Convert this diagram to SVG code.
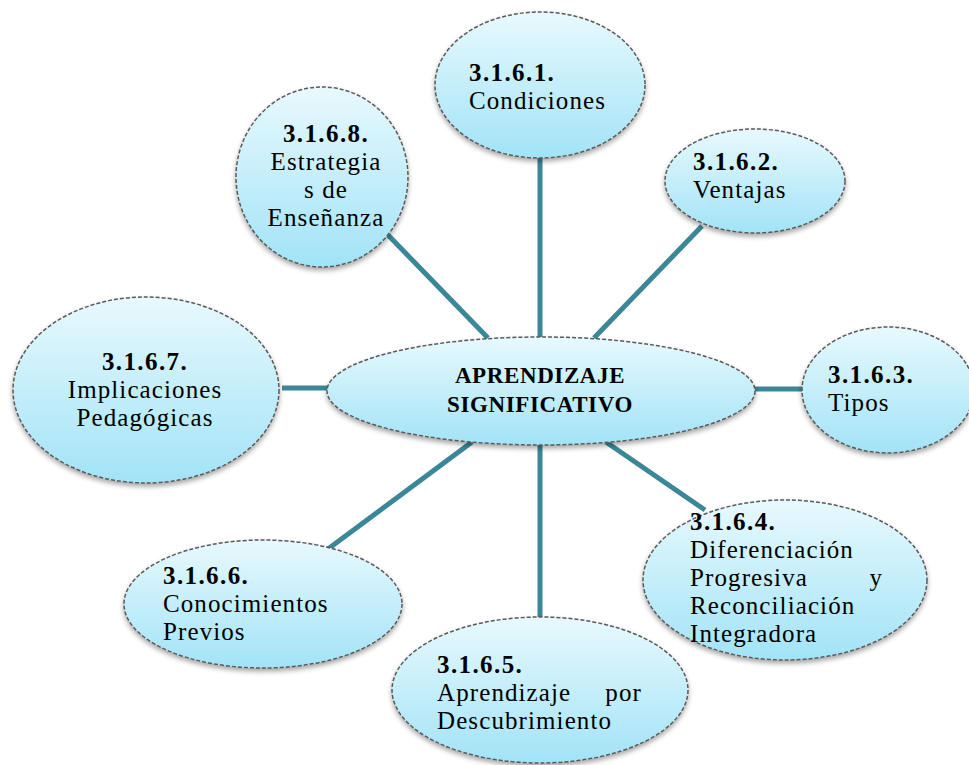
<svg xmlns="http://www.w3.org/2000/svg" width="969" height="765" viewBox="0 0 969 765">
<defs>
<linearGradient id="g" x1="0" y1="0" x2="0" y2="1">
<stop offset="0" stop-color="#e8f9fd"/>
<stop offset="1" stop-color="#a2e3f7"/>
</linearGradient>
<filter id="sh" x="-10%" y="-10%" width="120%" height="130%">
<feDropShadow dx="0" dy="3" stdDeviation="2.5" flood-color="#000" flood-opacity="0.35"/>
</filter>
<style>
.n{fill:url(#g);stroke:#5a5a5a;stroke-width:1.5;stroke-dasharray:4 2;filter:url(#sh)}
.c{stroke:#3a8797;stroke-width:5;fill:none}
text{font-family:"Liberation Serif","Times New Roman",serif;font-size:25px;letter-spacing:1.1px;fill:#000}
.b{font-weight:bold;letter-spacing:1.4px}
.m{text-anchor:middle}
.e{text-anchor:end}
.cb{font-weight:bold;font-size:23px;letter-spacing:0.6px;text-anchor:middle}
</style>
</defs>
<rect width="969" height="765" fill="#fff"/>
<g id="connectors">
<line class="c" x1="540" y1="155" x2="540" y2="340"/>
<line class="c" x1="388" y1="235" x2="488" y2="338"/>
<line class="c" x1="702" y1="226" x2="594" y2="338"/>
<line class="c" x1="754" y1="389" x2="804" y2="389"/>
<line class="c" x1="282" y1="388" x2="330" y2="388"/>
<line class="c" x1="472" y1="442" x2="328" y2="549"/>
<line class="c" x1="540" y1="443" x2="540" y2="620"/>
<line class="c" x1="606" y1="442" x2="705" y2="510"/>
</g>
<g id="n1">
<ellipse class="n" cx="540" cy="85" rx="105" ry="73"/>
<text class="b" x="469" y="81">3.1.6.1.</text>
<text x="469" y="109">Condiciones</text>
</g>
<g id="n2">
<ellipse class="n" cx="755" cy="181" rx="90" ry="52"/>
<text class="b" x="693" y="170">3.1.6.2.</text>
<text x="693" y="198">Ventajas</text>
</g>
<g id="n3">
<ellipse class="n" cx="888" cy="390" rx="86" ry="63"/>
<text class="b" x="828" y="383">3.1.6.3.</text>
<text x="828" y="411">Tipos</text>
</g>
<g id="n4">
<ellipse class="n" cx="785" cy="580" rx="142" ry="80"/>
<text class="b" x="690" y="530">3.1.6.4.</text>
<text x="690" y="558">Diferenciación</text>
<text x="690" y="586">Progresiva</text>
<text class="e" x="883" y="586">y</text>
<text x="690" y="614">Reconciliación</text>
<text x="690" y="642">Integradora</text>
</g>
<g id="n5">
<ellipse class="n" cx="540" cy="690" rx="148" ry="73"/>
<text class="b" x="437" y="673">3.1.6.5.</text>
<text x="437" y="701">Aprendizaje</text>
<text class="e" x="642" y="701">por</text>
<text x="437" y="729">Descubrimiento</text>
</g>
<g id="n6">
<ellipse class="n" cx="263" cy="604" rx="139" ry="64"/>
<text class="b" x="163" y="584">3.1.6.6.</text>
<text x="163" y="612">Conocimientos</text>
<text x="163" y="640">Previos</text>
</g>
<g id="n7">
<ellipse class="n" cx="146" cy="390" rx="133" ry="93"/>
<text class="b m" x="145" y="370">3.1.6.7.</text>
<text class="m" x="145" y="398">Implicaciones</text>
<text class="m" x="145" y="426">Pedagógicas</text>
</g>
<g id="n8">
<ellipse class="n" cx="322" cy="177" rx="86" ry="90"/>
<text class="b m" x="326" y="142">3.1.6.8.</text>
<text class="m" x="326" y="170">Estrategia</text>
<text class="m" x="326" y="198">s de</text>
<text class="m" x="326" y="226">Enseñanza</text>
</g>
<g id="center">
<ellipse class="n" cx="541" cy="391" rx="214" ry="54"/>
<text class="cb" x="540" y="383">APRENDIZAJE</text>
<text class="cb" x="540" y="412">SIGNIFICATIVO</text>
</g>
</svg>
